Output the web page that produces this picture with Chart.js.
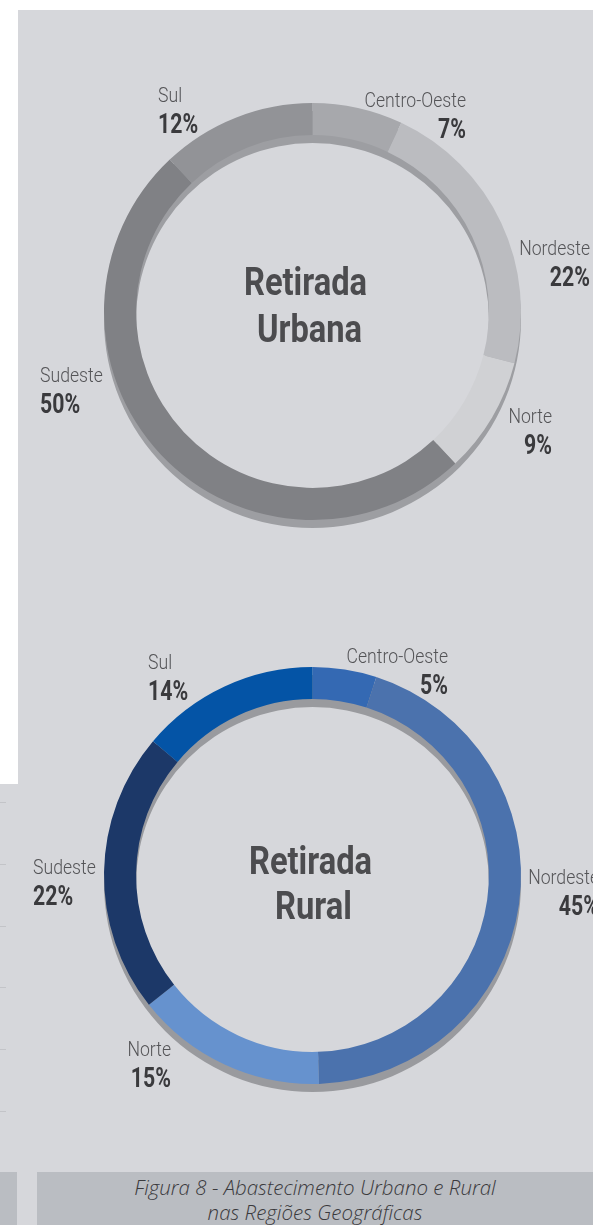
<!DOCTYPE html>
<html lang="pt-BR">
<head>
  <meta charset="UTF-8" />
  <title>Retirada Urbana e Rural</title>
  <script src="https://cdn.jsdelivr.net/npm/chart.js"></script>
  <style>
    * { box-sizing: border-box; margin: 0; padding: 0; }
    body { background: #fff; width: 593px; height: 1225px; position: relative; overflow: hidden; }
    .panel { position: absolute; background: #d6d7db; }
    .tick { position: absolute; left: 0; width: 6px; height: 1px; background: #c3c4c8; }
    .capbox { position: absolute; background: #babdc2; }
    .caption {
      position: absolute; left: 37px; top: 1172px; width: 556px;
      text-align: center; font-family: 'Open Sans', sans-serif; font-style: italic;
      font-weight: 300; font-size: 20.5px; line-height: 25px; color: #3a3a3d; padding-top: 3px;
    }
    canvas { position: absolute; left: 0; }
  </style>
</head>
<body>
  <div class="panel" style="left:18px; top:10px; width:575px; height:1215px;"></div>
  <div class="panel" style="left:0; top:784px; width:18px; height:441px;"></div>
  <div class="tick" style="top:802px"></div>
  <div class="tick" style="top:864px"></div>
  <div class="tick" style="top:926px"></div>
  <div class="tick" style="top:987px"></div>
  <div class="tick" style="top:1049px"></div>
  <div class="tick" style="top:1111px"></div>

  <canvas id="urbana" width="593" height="560" style="top:10px"></canvas>
  <canvas id="rural" width="593" height="560" style="top:600px"></canvas>

  <div class="capbox" style="left:0; top:1172px; width:17px; height:53px;"></div>
  <div class="capbox" style="left:37px; top:1172px; width:556px; height:53px;"></div>
  <div class="caption">Figura 8 - Abastecimento Urbano e Rural<br>nas Regiões Geográficas</div>

  <script>
    // dados (% da retirada por região)
    const regions = ['Centro-Oeste', 'Nordeste', 'Norte', 'Sudeste', 'Sul'];
    const urbanValues = [7, 22, 9, 50, 12];
    const ruralValues = [5, 45, 15, 22, 14];

    const urbanColors = ['#a7a8ac', '#bbbcc0', '#d0d1d4', '#808185', '#929397'];
    const ruralColors = ['#3469b3', '#4b72ad', '#6692ce', '#1c3868', '#0454a6'];

    // draws the drop shadow ring, the region labels and the centre title
    const ringLabels = {
      id: 'ringLabels',
      beforeDatasetsDraw(chart, args, opts) {
        const arc = chart.getDatasetMeta(0).data[0];
        const p = arc.getProps(['x', 'y', 'innerRadius', 'outerRadius'], true);
        const ctx = chart.ctx;
        ctx.save();
        ctx.fillStyle = opts.shadow;
        ctx.beginPath();
        ctx.arc(p.x, p.y + 8, p.outerRadius, 0, Math.PI * 2);
        ctx.arc(p.x, p.y + 8, p.innerRadius, Math.PI * 2, 0, true);
        ctx.fill();
        ctx.restore();
      },
      afterDatasetsDraw(chart, args, opts) {
        const ctx = chart.ctx;
        const arc = chart.getDatasetMeta(0).data[0];
        const cx = arc.x, cy = arc.y;
        const values = chart.data.datasets[0].data;

        function text(str, x, y, font, color, align, sx) {
          ctx.save();
          ctx.translate(x, y);
          ctx.scale(sx, 1);
          ctx.font = font;
          ctx.fillStyle = color;
          ctx.textAlign = align;
          ctx.textBaseline = 'alphabetic';
          ctx.fillText(str, 0, 0);
          ctx.restore();
        }

        chart.data.labels.forEach((name, i) => {
          const a = opts.anchors[i];
          const x = cx + a[0], y = cy + a[1];
          text(name, x, y, '300 21px Roboto', '#545457', a[2], 0.84);
          text(values[i] + '%', x, y + 31, 'bold 28px Roboto', '#3a3a3d', a[2], 0.76);
        });

        opts.title.forEach((t) => {
          text(t[0], cx + t[1], cy + t[2], 'bold 38px Roboto', '#4c4c4f', 'center', 0.86);
        });
      }
    };

    function ring(id, values, colors, anchors, title, shadow, top) {
      return new Chart(document.getElementById(id), {
        type: 'doughnut',
        data: {
          labels: regions,
          datasets: [{
            data: values,
            backgroundColor: colors,
            borderWidth: 0,
            hoverOffset: 0
          }]
        },
        options: {
          responsive: false,
          animation: false,
          cutout: '84.6%',
          layout: { padding: { left: 104, right: 72, top: top, bottom: 560 - top - 417 } },
          plugins: {
            legend: { display: false },
            tooltip: { enabled: false },
            ringLabels: { anchors: anchors, title: title, shadow: shadow }
          }
        },
        plugins: [ringLabels]
      });
    }

    // label anchors relative to ring centre: [dx, dy, align]
    ring('urbana', urbanValues, urbanColors,
      [[153.5, -204.5, 'right'], [277.5, -56.5, 'right'], [239.5, 111.5, 'right'],
       [-272.5, 70.5, 'left'], [-154.5, -209.5, 'left']],
      [['Retirada', -7, -16.5], ['Urbana', -3, 30.5]],
      '#9d9ea2', 93);

    ring('rural', ruralValues, ruralColors,
      [[135.5, -213, 'right'], [286.5, 8, 'right'], [-141.5, 180, 'right'],
       [-279.5, -2, 'left'], [-164.5, -207, 'left']],
      [['Retirada', -2, -2], ['Rural', 1, 43]],
      '#999a9e', 67);
  </script>
</body>
</html>
